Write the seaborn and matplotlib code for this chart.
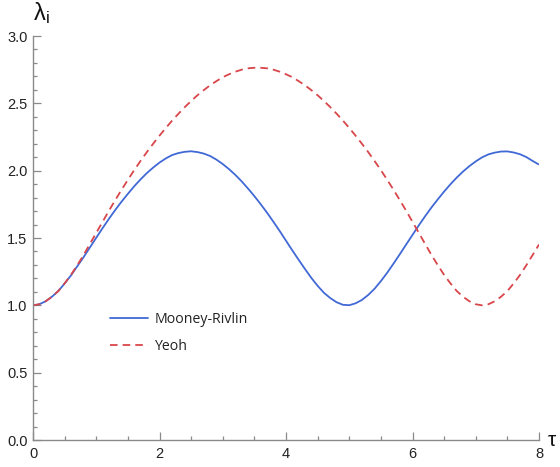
import numpy as np
import pandas as pd
import matplotlib
matplotlib.use("Agg")
import matplotlib.pyplot as plt
from matplotlib.ticker import MultipleLocator
import seaborn as sns

# Stretch ratio over time for two hyperelastic material models
tau = [round(0.1 * k, 1) for k in range(81)]

mooney_rivlin = [
    1.000, 1.008, 1.030, 1.064, 1.106, 1.162, 1.222, 1.290, 1.358, 1.430,
    1.502, 1.573, 1.642, 1.708, 1.770, 1.828, 1.884, 1.935, 1.982, 2.023,
    2.060, 2.091, 2.116, 2.131, 2.140, 2.144, 2.138, 2.127, 2.109, 2.082,
    2.049, 2.011, 1.968, 1.920, 1.867, 1.811, 1.751, 1.688, 1.621, 1.552,
    1.480, 1.408, 1.338, 1.270, 1.204, 1.145, 1.093, 1.054, 1.023, 1.004,
    1.001, 1.015, 1.040, 1.077, 1.123, 1.180, 1.242, 1.310, 1.380, 1.452,
    1.523, 1.594, 1.662, 1.727, 1.787, 1.845, 1.899, 1.949, 1.994, 2.034,
    2.069, 2.099, 2.121, 2.134, 2.142, 2.143, 2.135, 2.122, 2.101, 2.072,
    2.045,
]

yeoh = [
    1.000, 1.008, 1.030, 1.064, 1.106, 1.163, 1.226, 1.298, 1.374, 1.456,
    1.538, 1.620, 1.702, 1.781, 1.858, 1.932, 2.004, 2.072, 2.138, 2.200,
    2.260, 2.317, 2.372, 2.423, 2.472, 2.517, 2.560, 2.598, 2.634, 2.665,
    2.694, 2.716, 2.735, 2.750, 2.760, 2.764, 2.764, 2.760, 2.750, 2.735,
    2.716, 2.694, 2.665, 2.634, 2.598, 2.560, 2.517, 2.472, 2.423, 2.372,
    2.317, 2.260, 2.200, 2.138, 2.072, 2.004, 1.932, 1.858, 1.781, 1.702,
    1.620, 1.538, 1.456, 1.374, 1.298, 1.226, 1.163, 1.106, 1.064, 1.030,
    1.008, 1.000, 1.008, 1.030, 1.064, 1.106, 1.163, 1.226, 1.298, 1.374,
    1.452,
]

models = ["Mooney-Rivlin", "Yeoh"]
x_ticks = [0, 2, 4, 6, 8]
y_ticks = [0.0, 0.5, 1.0, 1.5, 2.0, 2.5, 3.0]

df = pd.concat([
    pd.DataFrame({"tau": tau, "lam": mooney_rivlin, "model": models[0]}),
    pd.DataFrame({"tau": tau, "lam": yeoh, "model": models[1]}),
])

sns.set_style("ticks")
plt.rcParams["font.family"] = ["Liberation Sans", "DejaVu Sans"]

fig = plt.figure(figsize=(5.6, 4.67), dpi=100)
ax = fig.add_axes([33 / 560, 27 / 467, (539 - 33) / 560, (440 - 36) / 467])

palette = {"Mooney-Rivlin": "#4169d6", "Yeoh": "#d9464a"}
sns.lineplot(data=df, x="tau", y="lam", hue="model", style="model",
             hue_order=models, style_order=models, palette=palette,
             dashes={"Mooney-Rivlin": "", "Yeoh": (4.2, 2.8)},
             linewidth=1.3, ax=ax, legend=True)

ax.set_xlim(0, 8)
ax.set_ylim(0, 3)
ax.set_xticks(x_ticks)
ax.set_xticklabels([str(v) for v in x_ticks])
ax.set_yticks(y_ticks)
ax.set_yticklabels([f"{v:.1f}" for v in y_ticks])
ax.xaxis.set_minor_locator(MultipleLocator(0.5))
ax.yaxis.set_minor_locator(MultipleLocator(0.1))

axis_gray = "#8a8a8a"
for side in ("top", "right"):
    ax.spines[side].set_visible(False)
for side in ("left", "bottom"):
    ax.spines[side].set_color(axis_gray)
    ax.spines[side].set_linewidth(1.0)
ax.tick_params(which="both", direction="in", color=axis_gray, width=0.9,
               labelsize=10.5, labelcolor="#222222")
ax.tick_params(which="major", length=5.5)
ax.tick_params(which="minor", length=3)
ax.tick_params(axis="x", which="major", pad=5)
ax.tick_params(axis="y", which="major", pad=4)

ax.set_xlabel("")
ax.set_ylabel("")
ax.text(0.0, 1.025, r"$\mathregular{\lambda_i}$", transform=ax.transAxes,
        fontsize=17, ha="left", va="bottom", color="#111111")
ax.text(1.018, 0.0, "τ", transform=ax.transAxes, fontsize=15,
        ha="left", va="center", color="#111111")

leg = ax.legend(loc="upper left", bbox_to_anchor=(0.152, 0.318), frameon=False,
                handlelength=2.7, handletextpad=0.45, labelspacing=0.85,
                borderpad=0, borderaxespad=0,
                prop={"family": "Open Sans", "size": 10.2})
for txt in leg.get_texts():
    txt.set_color("#222222")

for line in ax.get_lines():
    line.set_solid_capstyle("butt")

fig.savefig("out.png", dpi=100)
